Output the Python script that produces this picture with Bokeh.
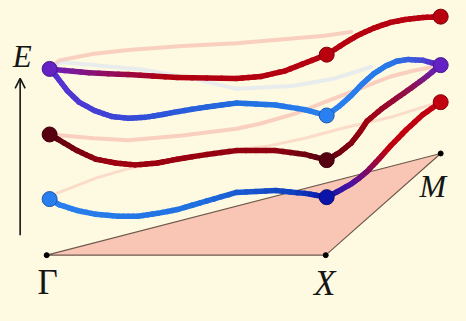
from bokeh.plotting import figure
from bokeh.models import Range1d, Arrow, OpenHead, ColumnDataSource
from bokeh.core.properties import value
from bokeh.embed import file_html
from bokeh.resources import INLINE

# ---------------- data (reference pixel coordinates, y grows downward) ----------------
# Brillouin-zone wedge
bz_x = [47, 331, 448]
bz_y = [268, 268, 161]
bz_labels = ["Γ", "X", "M"]

# bands
b1_x = [50, 57, 90, 130, 180, 240, 265, 290, 312, 332, 350, 363, 380, 397, 412, 430, 448]
b1_y = [72, 73, 76, 78, 81, 82, 80, 74, 65, 57, 45, 37, 29, 23, 20, 18, 17]

b2_x = [50, 57, 68, 80, 96, 113, 130, 147, 165, 180, 210, 240, 280, 310, 332, 345, 357, 368, 380, 392, 403, 415, 430, 448]
b2_y = [72, 80, 95, 107, 116, 122, 124, 123, 120, 117, 112, 108, 110, 115, 121, 111, 100, 88, 77, 69, 64, 62, 63, 68]

b3_x = [50, 60, 78, 97, 117, 137, 160, 180, 210, 240, 280, 310, 332, 345, 357, 366, 373, 388, 403, 418, 430, 448]
b3_y = [141, 147, 158, 167, 171, 173, 171, 167, 162, 158, 158, 162, 168, 160, 150, 138, 127, 114, 103, 92, 83, 68]

b4_x = [50, 60, 78, 97, 120, 140, 160, 180, 210, 240, 280, 310, 332, 345, 357, 365, 373, 385, 397, 413, 430, 448]
b4_y = [209, 215, 221, 225, 227, 227, 224, 220, 211, 202, 200, 203, 207, 200, 193, 187, 180, 167, 153, 136, 120, 107]

# faint (ghost) bands
f1_x = [50, 60, 95, 130, 185, 240, 297, 330, 357]
f1_y = [72, 63, 56, 52, 48, 45, 40, 37, 33]
f2_x = [50, 63, 105, 147, 195, 240, 297, 340, 377]
f2_y = [72, 65, 69, 73, 82, 93, 90, 82, 70]
f3_x = [50, 63, 95, 130, 185, 240, 263, 300, 330, 365, 397, 420, 440]
f3_y = [141, 142, 145, 147, 142, 135, 130, 119, 107, 93, 80, 74, 70]
f4_x = [50, 57, 77, 97, 130, 165, 200, 240, 273, 310, 350, 400, 443]
f4_y = [209, 203, 195, 187, 177, 169, 163, 157, 153, 145, 134, 122, 108]

# nodes (high-symmetry eigenvalues)
node_x = [50, 50, 50, 332, 332, 332, 332, 448, 448, 448]
node_y = [72, 141, 209, 57, 121, 168, 207, 17, 68, 107]
node_c = ["#6422C4", "#560010", "#2A7FEE", "#B8000F", "#2A80F0", "#560010", "#0A14A8",
          "#B8000F", "#6422C4", "#C2000F"]

# label anchor points (centre x, centre y)
lab_x = [48, 330, 440]
lab_y = [297, 298, 195]

# ---------------- styling ----------------
BG = "#FEFAE1"

def hex2rgb(h):
    h = h.lstrip("#")
    return [int(h[i:i + 2], 16) for i in (0, 2, 4)]

def color_at(x, stops):
    if x <= stops[0][0]:
        return stops[0][1]
    for (x0, c0), (x1, c1) in zip(stops[:-1], stops[1:]):
        if x0 <= x <= x1:
            t = (x - x0) / (x1 - x0) if x1 != x0 else 0
            a, b = hex2rgb(c0), hex2rgb(c1)
            r = [round(a[i] + (b[i] - a[i]) * t) for i in range(3)]
            return "#%02x%02x%02x" % tuple(r)
    return stops[-1][1]

stops1 = [(50, "#6A22C0"), (100, "#8A1070"), (170, "#B00010"), (448, "#B80010")]
stops2 = [(50, "#5A2ED0"), (150, "#3050D8"), (250, "#2070E0"), (332, "#2A80F0"),
          (400, "#2878E8"), (428, "#4050D8"), (448, "#6020C0")]
stops3 = [(50, "#580010"), (115, "#A00010"), (280, "#900010"), (332, "#5A0010"),
          (375, "#A00010"), (420, "#901050"), (448, "#6020C0")]
stops4 = [(50, "#2A80F0"), (200, "#2070E0"), (300, "#1040C0"), (332, "#0818A8"),
          (360, "#5010A0"), (395, "#C00010"), (448, "#C00010")]

p = figure(width=450, height=305, output_backend="svg", toolbar_location=None,
           x_range=Range1d(0, 458), y_range=Range1d(321, 0), min_border=0)
p.axis.visible = False
p.grid.visible = False
p.outline_line_color = None
p.background_fill_color = BG
p.border_fill_color = BG

# wedge
p.patch(bz_x, bz_y, fill_color="#F9C6B6", line_color="#6E5A4C", line_width=1.2)
p.scatter(bz_x, bz_y, size=5, color="black")

# ghost bands
p.line(f1_x, f1_y, line_color="#F07070", line_alpha=0.3, line_width=4, line_cap="round")
p.line(f2_x, f2_y, line_color="#C8D6FF", line_alpha=0.4, line_width=4, line_cap="round")
p.line(f3_x, f3_y, line_color="#F07070", line_alpha=0.3, line_width=4, line_cap="round")
p.line(f4_x, f4_y, line_color="#F07070", line_alpha=0.22, line_width=3, line_cap="round")

# bands as coloured segments
def band(xs, ys, stops):
    sx, sy, cs = [], [], []
    for i in range(len(xs) - 1):
        n = 4
        for k in range(n):
            t0, t1 = k / n, (k + 1) / n
            xa = xs[i] + (xs[i + 1] - xs[i]) * t0
            xb = xs[i] + (xs[i + 1] - xs[i]) * t1
            ya = ys[i] + (ys[i + 1] - ys[i]) * t0
            yb = ys[i] + (ys[i + 1] - ys[i]) * t1
            sx.append([xa, xb])
            sy.append([ya, yb])
            cs.append(color_at((xa + xb) / 2, stops))
    src = ColumnDataSource(dict(xs=sx, ys=sy, c=cs))
    p.multi_line("xs", "ys", source=src, line_color="c", line_width=5.5,
                 line_cap="round", line_join="round")

band(b1_x, b1_y, stops1)
band(b3_x, b3_y, stops3)
band(b4_x, b4_y, stops4)
band(b2_x, b2_y, stops2)

def darker(h):
    r = hex2rgb(h)
    return "#%02x%02x%02x" % tuple(int(v * 0.7) for v in r)

p.scatter(node_x, node_y, size=15, fill_color=node_c,
          line_color=[darker(c) for c in node_c], line_width=1)

# labels
FONT = value("Liberation Serif")
p.text([lab_x[0]], [lab_y[0]], text=[bz_labels[0]], text_font=FONT,
       text_font_size="35px", text_align="center", text_baseline="middle",
       text_color="#151515")
p.text([lab_x[1]], [lab_y[1]], text=[bz_labels[1]], text_font=FONT, text_font_style="italic",
       text_font_size="35px", text_align="center", text_baseline="middle",
       text_color="#151515")
p.text([lab_x[2]], [lab_y[2]], text=[bz_labels[2]], text_font=FONT, text_font_style="italic",
       text_font_size="32px", text_align="center", text_baseline="middle",
       text_color="#151515")
p.text([22], [59], text=["E"], text_font=FONT, text_font_style="italic",
       text_font_size="31px", text_align="center", text_baseline="middle",
       text_color="#151515")

# energy arrow
p.add_layout(Arrow(x_start=20, y_start=247, x_end=20, y_end=82, line_width=1.6,
                   line_color="#151515",
                   end=OpenHead(size=10, line_width=1.6, line_color="#151515")))

html = file_html(p, INLINE)
i = html.rfind("</head>")
html = html[:i] + "<style>html,body{background:%s;}</style>" % BG + html[i:]
open("out.html", "w").write(html)
